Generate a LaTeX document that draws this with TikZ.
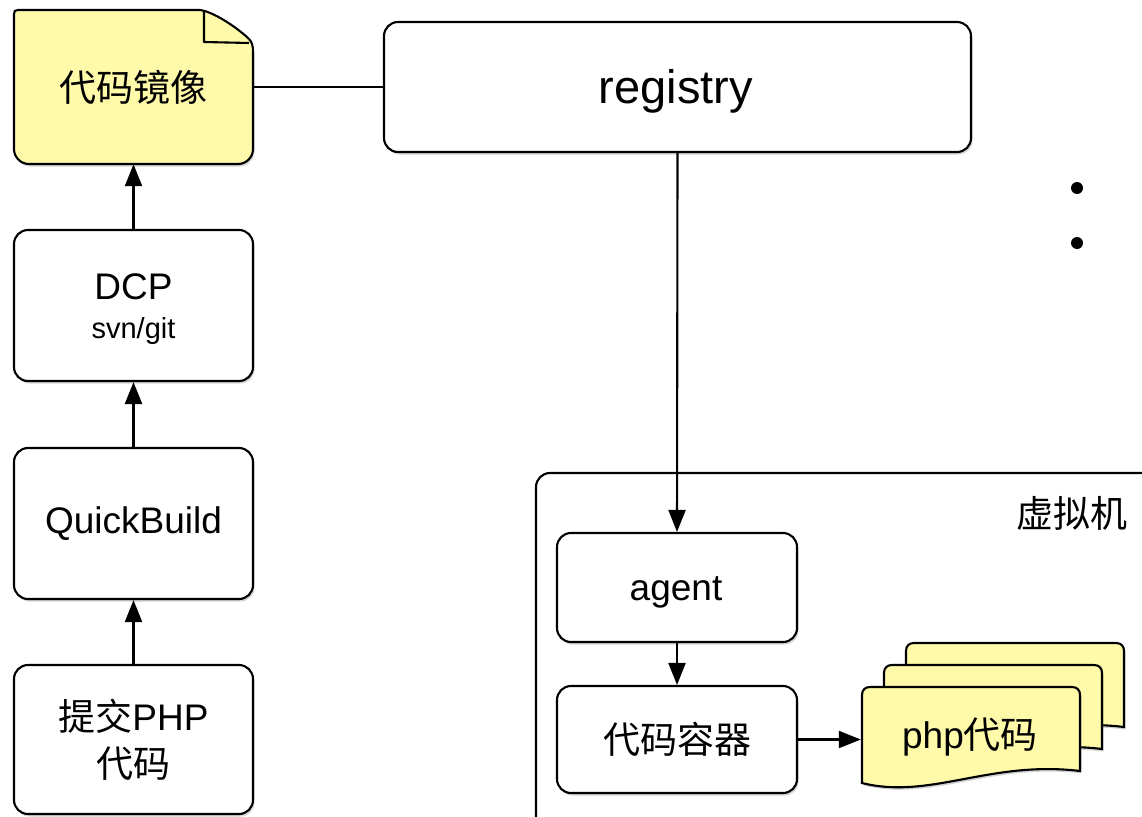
\documentclass[tikz,border=0pt]{standalone}
\usepackage{fontspec}
\setmainfont{Liberation Sans}
\newfontfamily\cjk{Noto Sans CJK SC}
\usetikzlibrary{arrows.meta,shadows}
\definecolor{note}{RGB}{255,250,170}
\begin{document}
\begin{tikzpicture}[x=1pt,y=-1pt,
 lw/.style={line width=2.1pt},
 shade/.style={drop shadow={shadow xshift=1.5pt,shadow yshift=-2.5pt,opacity=0.35}},
 box/.style={lw, draw, rounded corners=14pt, fill=white, shade, inner sep=0pt},
 ghost/.style={inner sep=0pt},
 lbl/.style={font=\fontsize{37}{50}\selectfont, align=center},
 small/.style={font=\fontsize{29}{34}\selectfont},
 conn/.style={lw},
 arr/.style={lw, -{Triangle[length=22pt,width=17pt]}},
]
\clip (0,0) rectangle (1142,816);
\useasboundingbox (0,0) rectangle (1142,816);

% virtual machine container
\node[box, minimum width=640pt, minimum height=380pt] (vm) at (856,663) {};
\node[lbl, ghost] (vmlabel) at (1072,513) {\cjk 虚拟机};

% mirror document
\draw[lw, fill=note, shade] (14,14) .. controls (14,11) and (15,10) .. (18,10) -- (200,10)
  .. controls (215,12) and (240,30) .. (249,39) .. controls (252,42) and (253,46) .. (253,52)
  -- (253,149) .. controls (253,157.3) and (246.3,164) .. (238,164)
  -- (29,164) .. controls (20.7,164) and (14,157.3) .. (14,149) -- cycle;
\draw[lw, line join=round] (204,11) -- (204,42) -- (249,43);
\node[ghost, minimum width=239pt, minimum height=154pt, lbl] (mirror) at (133.5,87) {\cjk 代码镜像};

% left column
\node[box, minimum width=239pt, minimum height=151pt] (dcp) at (133.5,305.5) {};
\node[lbl, ghost] (dcpt) at (133.5,287) {DCP};
\node[small, ghost] (dcps) at (133.5,331) {svn/git};
\node[box, lbl, minimum width=239pt, minimum height=151pt] (qb) at (133.5,523.5) {QuickBuild};
\node[box, lbl, minimum width=239pt, minimum height=149pt] (submit) at (133.5,739.5) {{\cjk 提交}PHP\\[-3pt]{\cjk 代码}};

% registry
\node[box, minimum width=587pt, minimum height=130pt] (registry) at (677.5,87) {};
\node[ghost, font=\fontsize{47}{54}\selectfont] (registryt) at (676,91) {registry};

% inside vm
\node[box, minimum width=240pt, minimum height=109pt] (agent) at (677,587.5) {};
\node[lbl, ghost] (agentt) at (676,592) {agent};
\node[box, lbl, minimum width=240pt, minimum height=107pt] (cont) at (677,739.5) {\cjk 代码容器};

% php documents
\foreach \dx/\dy in {44/-44, 22/-22, 0/0}{
\begin{scope}[shift={(\dx,\dy)}]
\draw[lw, fill=note, shade] (862,783) -- (862,695) .. controls (862,690) and (865,687) .. (870,687)
  -- (1072,687) .. controls (1077,687) and (1080,690) .. (1080,695) -- (1080,771)
  .. controls (990,760) and (930,800) .. (862,783) -- cycle;
\end{scope}}
\node[ghost, lbl, minimum width=218pt, minimum height=96pt] (php) at (970,737) {php{\cjk 代码}};

% dots
\node[circle, fill, inner sep=0pt, minimum size=12pt] (dot1) at (1077,188) {};
\node[circle, fill, inner sep=0pt, minimum size=12pt] (dot2) at (1077,243) {};

% connectors
\draw[conn] (mirror.east) -- (registry.west);
\draw[arr] (submit.north) -- (qb.south);
\draw[arr] (qb.north) -- (dcp.south);
\draw[arr] (dcp.north) -- (mirror.south);
\draw[arr] (registry.south) -- (agent.north);
\draw[arr] (agent.south) -- (cont.north);
\draw[arr] (cont.east) -- (cont.east -| php.west);
\end{tikzpicture}
\end{document}
